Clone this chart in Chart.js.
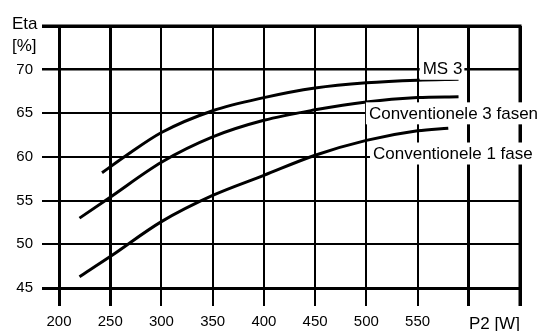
<!DOCTYPE html>
<html>
<head>
<meta charset="utf-8">
<script src="https://cdn.jsdelivr.net/npm/chart.js@4"></script>
<style>
  html, body { margin: 0; padding: 0; background: #fff; }
  #wrap { width: 552px; height: 331px; }
</style>
</head>
<body>
<div id="wrap"><canvas id="eta-chart"></canvas></div>
<script>
// tick values
const powerTicks = [200, 250, 300, 350, 400, 450, 500, 550, 600, 650];
const etaTicks = [45, 50, 55, 60, 65, 70, 75];

// curves (P2 in W, Eta in %)
const ms3Power = [242, 266, 300, 350, 400, 450, 500, 550, 590];
const ms3Eta   = [58.2, 60.2, 62.8, 65.3, 66.8, 67.9, 68.5, 68.8, 68.9];

const conv3Power = [220, 250, 300, 350, 400, 450, 500, 550, 590];
const conv3Eta   = [53.0, 55.4, 59.4, 62.3, 64.2, 65.4, 66.3, 66.8, 66.9];

const conv1Power = [220, 250, 300, 350, 400, 450, 500, 550, 580];
const conv1Eta   = [46.3, 48.6, 52.6, 55.6, 57.9, 60.2, 61.9, 63.0, 63.3];

const curveNames = ['MS 3', 'Conventionele 3 fasen', 'Conventionele 1 fase'];

const FONT = "'Liberation Sans', Arial, sans-serif";

function toPoints(xs, ys) {
    return xs.map((x, i) => ({ x: x, y: ys[i] }));
}

function curve(label, xs, ys) {
    return {
        label: label,
        data: toPoints(xs, ys),
        borderColor: '#000',
        borderWidth: 3,
        pointRadius: 0,
        fill: false,
        cubicInterpolationMode: 'monotone'
    };
}

// heavy frame lines on top (75 %) and right (650 W), ticks included
const frame = {
    id: 'frame',
    beforeDatasetsDraw(chart) {
        const ctx = chart.ctx;
        const a = chart.chartArea;
        ctx.save();
        ctx.strokeStyle = '#000';
        ctx.lineWidth = 3;
        ctx.beginPath();
        ctx.moveTo(a.left - 17, a.top);
        ctx.lineTo(a.right + 1.5, a.top);
        ctx.moveTo(a.right, a.top);
        ctx.lineTo(a.right, a.bottom + 18);
        ctx.stroke();
        ctx.restore();
    }
};

// labels on the curves with a white box behind, plus axis titles
const annotations = {
    id: 'annotations',
    afterDatasetsDraw(chart) {
        const ctx = chart.ctx;
        const xs = chart.scales.x;
        const ys = chart.scales.y;
        const spots = [
            { text: curveNames[0], x: 555, y: 70.1 },
            { text: curveNames[1], x: 502.5, y: 65.0 },
            { text: curveNames[2], x: 506.5, y: 60.4 }
        ];
        ctx.save();
        ctx.font = '17px ' + FONT;
        ctx.textBaseline = 'middle';
        ctx.textAlign = 'left';
        spots.forEach(s => {
            const px = xs.getPixelForValue(s.x);
            const py = ys.getPixelForValue(s.y);
            const w = ctx.measureText(s.text).width;
            ctx.fillStyle = '#fff';
            ctx.fillRect(px - 3, py - 11, w + 5, 22);
            ctx.fillStyle = '#000';
            ctx.fillText(s.text, px, py + 1);
        });

        // y title in place of the 75 tick, x title between 600 and 650
        ctx.fillText('Eta', 12, ys.getPixelForValue(75) - 2);
        ctx.fillText('[%]', 12, ys.getPixelForValue(75) + 20);
        ctx.textAlign = 'center';
        ctx.fillText('P2 [W]', xs.getPixelForValue(625), chart.chartArea.bottom + 36);
        ctx.restore();
    }
};

const xWidths = { 200: 3, 250: 3, 600: 3, 650: 3 };
const yWidths = { 45: 3, 70: 2.5, 75: 3 };

new Chart(document.getElementById('eta-chart'), {
    type: 'line',
    data: {
        datasets: [
            curve(curveNames[0], ms3Power, ms3Eta),
            curve(curveNames[1], conv3Power, conv3Eta),
            curve(curveNames[2], conv1Power, conv1Eta)
        ]
    },
    options: {
        responsive: true,
        maintainAspectRatio: false,
        animation: false,
        layout: { padding: { top: 26, right: 32, left: 0, bottom: 0 } },
        plugins: {
            legend: { display: false },
            tooltip: { enabled: false }
        },
        scales: {
            x: {
                type: 'linear',
                min: powerTicks[0],
                max: powerTicks[powerTicks.length - 1],
                afterBuildTicks: s => { s.ticks = powerTicks.map(v => ({ value: v })); },
                afterFit: s => { s.height = 43; },
                ticks: {
                    color: '#000',
                    font: { family: FONT, size: 15 },
                    padding: 7,
                    maxRotation: 0,
                    autoSkip: false,
                    callback: v => (v >= 600 ? '' : v)
                },
                grid: {
                    color: '#000',
                    tickLength: 18,
                    lineWidth: c => xWidths[c.tick && c.tick.value] || 2
                },
                border: { display: true, color: '#000', width: 3 }
            },
            y: {
                min: etaTicks[0],
                max: etaTicks[etaTicks.length - 1],
                afterBuildTicks: s => { s.ticks = etaTicks.map(v => ({ value: v })); },
                afterFit: s => { s.width = 59; },
                ticks: {
                    color: '#000',
                    font: { family: FONT, size: 15 },
                    padding: 9,
                    autoSkip: false,
                    callback: v => (v === 75 ? '' : v)
                },
                grid: {
                    color: '#000',
                    tickLength: 17,
                    lineWidth: c => yWidths[c.tick && c.tick.value] || 2
                },
                border: { display: true, color: '#000', width: 3 }
            }
        }
    },
    plugins: [frame, annotations]
});
</script>
</body>
</html>
